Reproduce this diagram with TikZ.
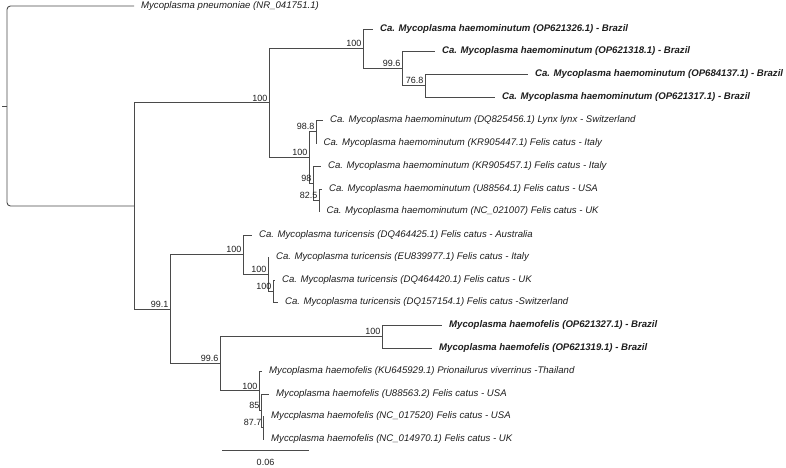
\documentclass[tikz,border=0pt]{standalone}
\usepackage{fontspec}
\setmainfont{Liberation Sans}
\definecolor{lc}{HTML}{4A4A4A}
\definecolor{tc}{HTML}{1E1E1E}
\begin{document}
\begin{tikzpicture}[x=1pt,y=-1pt,
  br/.style={draw=lc, line width=0.9pt},
  lf/.style={anchor=west, inner sep=0pt, text=tc, font=\fontsize{9.6}{11}\selectfont\itshape},
  lfb/.style={lf, font=\fontsize{9.6}{11}\selectfont\bfseries\itshape},
  bs/.style={anchor=south east, inner sep=0pt, xshift=-1.5pt, yshift=1.5pt, text=tc, font=\fontsize{9}{10}\selectfont}]
\useasboundingbox (0,0) rectangle (786,467);
% internal nodes
\coordinate (R0) at (7,106);
\coordinate (stub) at (2,106);
\coordinate (R1) at (134,206);
\coordinate (A) at (269,102.9);
\coordinate (B) at (363,48.6);
\coordinate (C) at (402,68.25);
\coordinate (D) at (425,85.5);
\coordinate (E) at (309,157.25);
\coordinate (F) at (316,131.5);
\coordinate (G) at (313,183);
\coordinate (H) at (319,200);
\coordinate (I) at (170,309.1);
\coordinate (J) at (243,254.5);
\coordinate (K) at (268,274);
\coordinate (L) at (273,291);
\coordinate (M) at (220,363.7);
\coordinate (N) at (382,336.5);
\coordinate (O) at (259,390.9);
\coordinate (P) at (261,410.75);
\coordinate (Q) at (263,427.5);
% tips
\coordinate (t1) at (134,6);
\coordinate (t2) at (373,29);
\coordinate (t3) at (435,51);
\coordinate (t4) at (528,74);
\coordinate (t5) at (495,97);
\coordinate (t6) at (323,120);
\coordinate (t7) at (316.5,143);
\coordinate (t8) at (321,166);
\coordinate (t9) at (322,189);
\coordinate (t10) at (319.5,211);
\coordinate (t11) at (252,235);
\coordinate (t12) at (269,257);
\coordinate (t13) at (275,280);
\coordinate (t14) at (278,302);
\coordinate (t15) at (442,325);
\coordinate (t16) at (432,348);
\coordinate (t17) at (262,371);
\coordinate (t18) at (269,394);
\coordinate (t19) at (264,416);
\coordinate (t20) at (264,439);
% root
\draw[br] (stub) -- (R0);
\draw[br, rounded corners=3.5pt] (R0) |- (t1);
\draw[br, rounded corners=3.5pt] (R0) |- (R1);
% branches
\draw[br] (R1) |- (A);
\draw[br] (R1) |- (I);
\draw[br] (A) |- (B);
\draw[br] (A) |- (E);
\draw[br] (B) |- (t2);
\draw[br] (B) |- (C);
\draw[br] (C) |- (t3);
\draw[br] (C) |- (D);
\draw[br] (D) |- (t4);
\draw[br] (D) |- (t5);
\draw[br] (E) |- (F);
\draw[br] (E) |- (G);
\draw[br] (F) |- (t6);
\draw[br] (F) |- (t7);
\draw[br] (G) |- (t8);
\draw[br] (G) |- (H);
\draw[br] (H) |- (t9);
\draw[br] (H) |- (t10);
\draw[br] (I) |- (J);
\draw[br] (I) |- (M);
\draw[br] (J) |- (t11);
\draw[br] (J) |- (K);
\draw[br] (K) |- (t12);
\draw[br] (K) |- (L);
\draw[br] (L) |- (t13);
\draw[br] (L) |- (t14);
\draw[br] (M) |- (N);
\draw[br] (M) |- (O);
\draw[br] (N) |- (t15);
\draw[br] (N) |- (t16);
\draw[br] (O) |- (t17);
\draw[br] (O) |- (P);
\draw[br] (P) |- (t18);
\draw[br] (P) |- (Q);
\draw[br] (Q) |- (t19);
\draw[br] (Q) |- (t20);
% leaf labels
\node[lf]  (l1)  at ([xshift=7pt]t1)  {Mycoplasma pneumoniae (NR\_041751.1)};
\node[lfb] (l2)  at ([xshift=7pt]t2)  {Ca. Mycoplasma haemominutum (OP621326.1) - Brazil};
\node[lfb] (l3)  at ([xshift=7pt]t3)  {Ca. Mycoplasma haemominutum (OP621318.1) - Brazil};
\node[lfb] (l4)  at ([xshift=7pt]t4)  {Ca. Mycoplasma haemominutum (OP684137.1) - Brazil};
\node[lfb] (l5)  at ([xshift=7pt]t5)  {Ca. Mycoplasma haemominutum (OP621317.1) - Brazil};
\node[lf]  (l6)  at ([xshift=7pt]t6)  {Ca. Mycoplasma haemominutum (DQ825456.1) Lynx lynx - Switzerland};
\node[lf]  (l7)  at ([xshift=7pt]t7)  {Ca. Mycoplasma haemominutum (KR905447.1) Felis catus - Italy};
\node[lf]  (l8)  at ([xshift=7pt]t8)  {Ca. Mycoplasma haemominutum (KR905457.1) Felis catus - Italy};
\node[lf]  (l9)  at ([xshift=7pt]t9)  {Ca. Mycoplasma haemominutum (U88564.1) Felis catus - USA};
\node[lf]  (l10) at ([xshift=7pt]t10) {Ca. Mycoplasma haemominutum (NC\_021007) Felis catus - UK};
\node[lf]  (l11) at ([xshift=7pt]t11) {Ca. Mycoplasma turicensis (DQ464425.1) Felis catus - Australia};
\node[lf]  (l12) at ([xshift=7pt]t12) {Ca. Mycoplasma turicensis (EU839977.1) Felis catus - Italy};
\node[lf]  (l13) at ([xshift=7pt]t13) {Ca. Mycoplasma turicensis (DQ464420.1) Felis catus - UK};
\node[lf]  (l14) at ([xshift=7pt]t14) {Ca. Mycoplasma turicensis (DQ157154.1) Felis catus -Switzerland};
\node[lfb] (l15) at ([xshift=7pt]t15) {Mycoplasma haemofelis (OP621327.1) - Brazil};
\node[lfb] (l16) at ([xshift=7pt]t16) {Mycoplasma haemofelis (OP621319.1) - Brazil};
\node[lf]  (l17) at ([xshift=7pt]t17) {Mycoplasma haemofelis (KU645929.1) Prionailurus viverrinus -Thailand};
\node[lf]  (l18) at ([xshift=7pt]t18) {Mycoplasma haemofelis (U88563.2) Felis catus - USA};
\node[lf]  (l19) at ([xshift=7pt]t19) {Myccplasma haemofelis (NC\_017520) Felis catus - USA};
\node[lf]  (l20) at ([xshift=7pt]t20) {Myccplasma haemofelis (NC\_014970.1) Felis catus - UK};
% bootstrap values
\node[bs] (bA) at (A) {100};
\node[bs] (bB) at (B) {100};
\node[bs] (bC) at (C) {99.6};
\node[bs] (bD) at (D) {76.8};
\node[bs] (bE) at (E) {100};
\node[bs] (bF) at (F) {98.8};
\node[bs] (bG) at (G) {98};
\node[bs] (bH) at (H) {82.5};
\node[bs] (bI) at (I) {99.1};
\node[bs] (bJ) at (J) {100};
\node[bs] (bK) at (K) {100};
\node[bs] (bL) at (L) {100};
\node[bs] (bM) at (M) {99.6};
\node[bs] (bN) at (N) {100};
\node[bs] (bO) at (O) {100};
\node[bs] (bP) at (P) {85};
\node[bs] (bQ) at (Q) {87.7};
% scale bar
\coordinate (s1) at (222,450);
\coordinate (s2) at (309,450);
\draw[br] (s1) -- (s2);
\node[inner sep=0pt, text=tc, font=\fontsize{9}{10}\selectfont] (sl) at (265.5,462) {0.06};
\end{tikzpicture}
\end{document}
